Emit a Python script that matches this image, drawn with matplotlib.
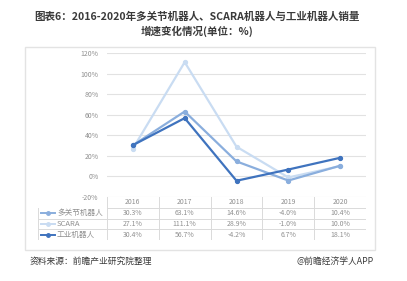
import matplotlib.pyplot as plt
import numpy as np
from matplotlib.lines import Line2D
from matplotlib.patches import Rectangle

plt.rcParams['font.family'] = ['Noto Sans CJK SC', 'DejaVu Sans']

# 数据
years = ['2016', '2017', '2018', '2019', '2020']
series_names = ['多关节机器人', 'SCARA', '工业机器人']
multi_joint = [30.3, 63.1, 14.6, -4.0, 10.4]
scara = [27.1, 111.1, 28.9, -1.0, 10.0]
industrial = [30.4, 56.7, -4.2, 6.7, 18.1]
yticks = [-20, 0, 20, 40, 60, 80, 100, 120]

colors = ['#8AAEDD', '#C9DCF2', '#3F73BE']
series = [multi_joint, scara, industrial]

W, H = 407, 281
fig = plt.figure(figsize=(W / 100, H / 100), dpi=100)
fig.patch.set_facecolor('white')


def fx(px):
    return px / W


def fy(py):
    return 1 - py / H


# 外框
fig.patches.append(Rectangle((fx(25), fy(250)), fx(350), (250 - 47) / H,
                             transform=fig.transFigure, fill=False,
                             edgecolor='#E3E3E3', linewidth=1))

# 标题
fig.text(0.485, fy(17), '图表6：2016-2020年多关节机器人、SCARA机器人与工业机器人销量',
         ha='center', va='center', fontsize=7.6, fontweight='bold', color='#3A3A3A')
fig.text(0.485, fy(31), '增速变化情况(单位：%)',
         ha='center', va='center', fontsize=7.6, fontweight='bold', color='#3A3A3A')

# 折线图
left, right = 107, 366
top, bottom = 53, 197
ax = fig.add_axes([fx(left), fy(bottom), fx(right - left), (bottom - top) / H])
x = np.arange(len(years))
for vals, c, z in zip(series, colors, [2, 1, 3]):
    ax.plot(x, vals, color=c, linewidth=1.6, marker='o', markersize=2.8, zorder=z)
ax.set_xlim(-0.5, len(years) - 0.5)
ax.set_ylim(-20, 120)
ax.set_yticks(yticks)
ax.set_yticklabels([f'{v}%' for v in yticks], fontsize=5, color='#909090')
ax.set_xticks([])
ax.tick_params(axis='y', length=0, pad=6)
for v in yticks:
    ax.axhline(v, color='#E2E2E2', linewidth=0.8, zorder=0)
for s in ax.spines.values():
    s.set_visible(False)

# 数据表
tb_top, tb_bottom = 197, 240
tax = fig.add_axes([fx(38), fy(tb_bottom), fx(right - 38), (tb_bottom - tb_top) / H])
tax.set_xlim(0, right - 38)
tax.set_ylim(4, 0)
tax.axis('off')
col0 = left - 38
cw = (right - left) / len(years)
gc = '#DADADA'
# 网格线
for r in range(1, 5):
    tax.plot([0 if r > 1 else col0, right - 38], [r, r], color=gc, linewidth=0.7)
for k in range(len(years) + 1):
    tax.plot([col0 + k * cw] * 2, [0, 4], color=gc, linewidth=0.7)
tax.plot([0, 0], [1, 4], color=gc, linewidth=0.7)
for k, yr in enumerate(years):
    tax.text(col0 + (k + 0.5) * cw, 0.5, yr, ha='center', va='center', fontsize=5, color='#909090')
for i, (name, vals, c) in enumerate(zip(series_names, series, colors)):
    ry = i + 1.5
    tax.add_line(Line2D([3, 17], [ry, ry], color=c, linewidth=1.4, marker=None))
    tax.plot([10], [ry], marker='o', markersize=2.5, color=c)
    tax.text(19, ry, name, ha='left', va='center', fontsize=5.5, color='#909090')
    for k, v in enumerate(vals):
        tax.text(col0 + (k + 0.5) * cw, ry, f'{v:.1f}%', ha='center', va='center',
                 fontsize=5, color='#909090')

# 来源
fig.text(fx(30), fy(261), '资料来源：前瞻产业研究院整理', ha='left', va='center',
         fontsize=6.3, color='#3A3A3A')
fig.text(fx(374), fy(261), '@前瞻经济学人APP', ha='right', va='center',
         fontsize=6.3, color='#3A3A3A')

fig.savefig('out.png', dpi=100)
